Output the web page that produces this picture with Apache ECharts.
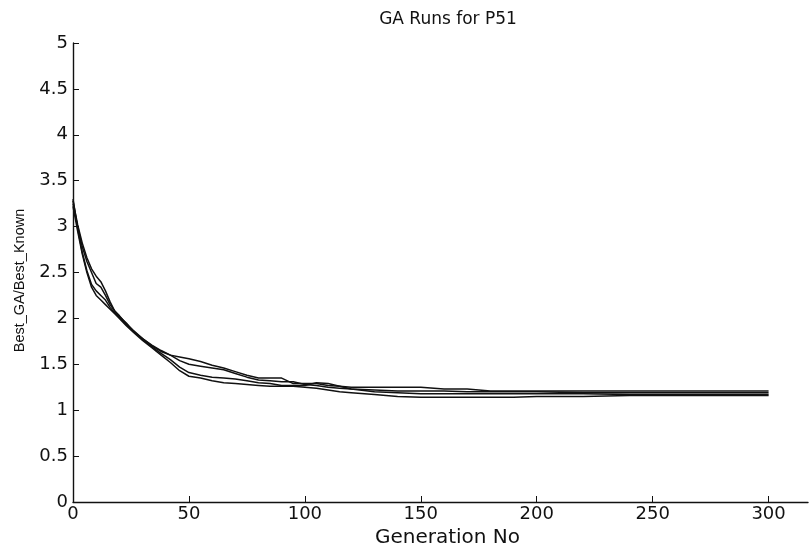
<!DOCTYPE html>
<html>
<head>
<meta charset="utf-8">
<script src="https://cdn.jsdelivr.net/npm/echarts@6/dist/echarts.min.js"></script>
<style>
  html, body { margin: 0; padding: 0; background: #fff; }
  #chart { width: 809px; height: 553px; }
</style>
</head>
<body>
<div id="chart"></div>
<script>
// generations sampled along the x axis
var generations = [0, 2, 4, 6, 8, 10, 12, 14, 16, 18, 20, 23, 26, 30, 34, 38, 42, 46, 50, 55, 60, 65, 70, 75, 80, 85, 90, 95, 100, 105, 110, 115, 120, 130, 140, 150, 160, 170, 180, 190, 200, 220, 240, 260, 280, 300]

// Best_GA/Best_Known for each GA run
var run1 = [3.28, 3.02, 2.82, 2.66, 2.54, 2.46, 2.40, 2.30, 2.18, 2.08, 2.02, 1.95, 1.86, 1.78, 1.70, 1.64, 1.60, 1.58, 1.56, 1.53, 1.49, 1.46, 1.42, 1.38, 1.35, 1.35, 1.35, 1.29, 1.29, 1.29, 1.27, 1.26, 1.25, 1.25, 1.25, 1.25, 1.23, 1.23, 1.21, 1.21, 1.21, 1.21, 1.21, 1.21, 1.21, 1.21]
var run2 = [3.25, 3.00, 2.78, 2.62, 2.50, 2.38, 2.34, 2.25, 2.15, 2.08, 2.03, 1.94, 1.87, 1.78, 1.71, 1.65, 1.60, 1.54, 1.50, 1.48, 1.46, 1.44, 1.40, 1.36, 1.33, 1.32, 1.31, 1.31, 1.28, 1.27, 1.25, 1.24, 1.23, 1.22, 1.21, 1.21, 1.21, 1.20, 1.20, 1.20, 1.20, 1.19, 1.19, 1.19, 1.19, 1.19]
var run3 = [3.30, 2.98, 2.72, 2.52, 2.37, 2.30, 2.25, 2.20, 2.12, 2.06, 2.01, 1.93, 1.86, 1.77, 1.69, 1.62, 1.55, 1.47, 1.41, 1.38, 1.36, 1.35, 1.34, 1.32, 1.30, 1.29, 1.27, 1.27, 1.27, 1.30, 1.29, 1.26, 1.23, 1.20, 1.19, 1.18, 1.18, 1.18, 1.18, 1.18, 1.18, 1.18, 1.17, 1.17, 1.17, 1.17]
var run4 = [3.22, 2.95, 2.70, 2.50, 2.34, 2.25, 2.20, 2.15, 2.10, 2.05, 2.00, 1.92, 1.85, 1.76, 1.68, 1.60, 1.52, 1.43, 1.37, 1.35, 1.32, 1.30, 1.29, 1.28, 1.27, 1.26, 1.26, 1.26, 1.25, 1.24, 1.22, 1.20, 1.19, 1.17, 1.15, 1.14, 1.14, 1.14, 1.14, 1.14, 1.15, 1.15, 1.16, 1.16, 1.16, 1.16]

var runs = [run1, run2, run3, run4]

var font = 'DejaVu Sans, Liberation Sans, sans-serif'

function pairs(vals) {
  return generations.map(function(g, i) { return [g, vals[i]] })
}

var chart = echarts.init(document.getElementById('chart'))
chart.setOption({
  animation: false,
  title: {
    text: 'GA Runs for P51',
    left: 443,
    top: 6,
    textAlign: 'center',
    textStyle: { fontFamily: font, fontSize: 17, fontWeight: 'normal', color: '#111' }
  },
  grid: { left: 73, right: 1, top: 43, bottom: 44 },
  xAxis: {
    type: 'value',
    min: 0,
    max: 317,
    interval: 50,
    name: 'Generation No',
    nameLocation: 'middle',
    nameGap: 26,
    nameTextStyle: { fontFamily: font, fontSize: 20, color: '#111', padding: [0, 0, 0, 14] },
    splitLine: { show: false },
    axisLine: { lineStyle: { color: '#111', width: 1.4 } },
    axisTick: { inside: true, length: 6, lineStyle: { color: '#111' } },
    axisLabel: { showMaxLabel: false, fontFamily: font, fontSize: 18, color: '#111', margin: 3 }
  },
  yAxis: {
    type: 'value',
    min: 0,
    max: 5,
    interval: 0.5,
    name: 'Best_GA/Best_Known',
    nameLocation: 'middle',
    nameGap: 46,
    nameTextStyle: { fontFamily: 'Liberation Sans, Arial, sans-serif', fontSize: 14.5, color: '#111', padding: [0, 16, 0, 0] },
    splitLine: { show: false },
    axisLine: { lineStyle: { color: '#111', width: 1.4 } },
    axisTick: { inside: true, length: 6, lineStyle: { color: '#111' } },
    axisLabel: { fontFamily: font, fontSize: 18, color: '#111', margin: 5 }
  },
  series: runs.map(function(r) {
    return {
      type: 'line',
      data: pairs(r),
      showSymbol: false,
      lineStyle: { color: '#111', width: 1.5 }
    }
  })
})
</script>
</body>
</html>
